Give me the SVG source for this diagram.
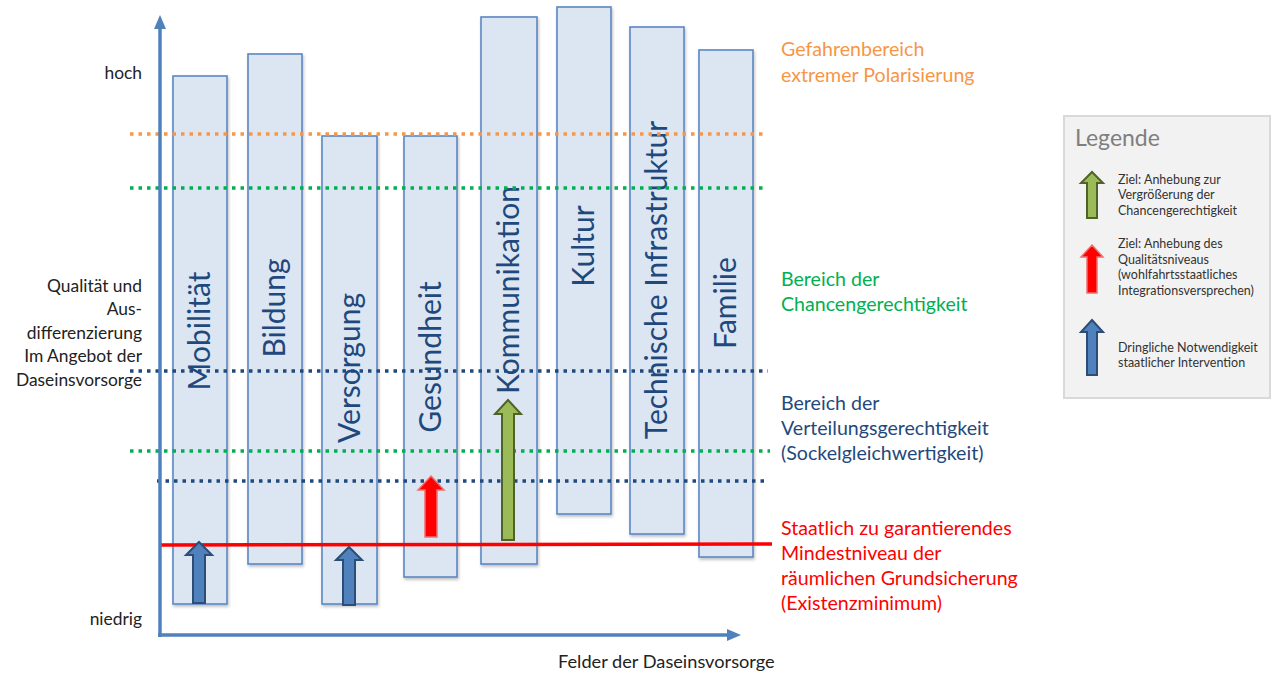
<svg xmlns="http://www.w3.org/2000/svg" width="1274" height="675" viewBox="0 0 1274 675">
<style>
text{font-family:Lato,"Liberation Sans",sans-serif}
.bar{fill:#DCE6F2;stroke:#5B87C2;stroke-width:1.6}
.bl{font-size:30px;fill:#1F497D;text-anchor:middle}
.ax{fill:#222;font-size:18.2px}
.axr{fill:#222;font-size:17.4px;text-anchor:end}
.dot{fill:none;stroke-width:3.5;stroke-dasharray:3.5 5}
.lg{font-size:12.5px;fill:#333}
.ab{fill:#4F81BD;stroke:#2C4D75;stroke-width:2}
.ag{fill:#9BBB59;stroke:#4F6228;stroke-width:2}
.ar{fill:#FF0000;stroke:#EE7070;stroke-width:1.5}
.rl{font-size:19.6px}
</style>
<defs>
<filter id="sh" x="-10%" y="-10%" width="130%" height="130%">
<feDropShadow dx="1" dy="2" stdDeviation="1.5" flood-color="#000" flood-opacity="0.25"/>
</filter>
</defs>
<rect width="1274" height="675" fill="#fff"/>

<g id="bars">
<g id="bar-mobilitaet"><rect class="bar" filter="url(#sh)" x="173" y="76" width="54" height="528"/><text class="bl" transform="translate(210,331) rotate(-90)">Mobilität</text></g>
<g id="bar-bildung"><rect class="bar" filter="url(#sh)" x="248" y="54" width="54" height="510"/><text class="bl" transform="translate(285,308) rotate(-90)">Bildung</text></g>
<g id="bar-versorgung"><rect class="bar" filter="url(#sh)" x="322" y="136" width="55" height="468"/><text class="bl" transform="translate(360,368) rotate(-90)">Versorgung</text></g>
<g id="bar-gesundheit"><rect class="bar" filter="url(#sh)" x="404" y="136" width="53" height="441"/><text class="bl" transform="translate(441,357) rotate(-90)">Gesundheit</text></g>
<g id="bar-kommunikation"><rect class="bar" filter="url(#sh)" x="481" y="17" width="56" height="547"/><text class="bl" transform="translate(519,290) rotate(-90)">Kommunikation</text></g>
<g id="bar-kultur"><rect class="bar" filter="url(#sh)" x="557" y="7" width="54" height="507"/><text class="bl" transform="translate(594,246) rotate(-90)">Kultur</text></g>
<g id="bar-technik"><rect class="bar" filter="url(#sh)" x="630" y="27" width="54" height="507"/><text class="bl" transform="translate(667,280) rotate(-90)">Technische Infrastruktur</text></g>
<g id="bar-familie"><rect class="bar" filter="url(#sh)" x="699" y="50" width="54" height="507"/><text class="bl" transform="translate(736,303) rotate(-90)">Familie</text></g>
</g>

<g id="levels">
<line class="dot" x1="130" y1="134" x2="764" y2="134" stroke="#F79646"/>
<line class="dot" x1="130" y1="188" x2="764" y2="188" stroke="#00B050"/>
<line class="dot" x1="130" y1="371" x2="768" y2="371" stroke="#1F497D"/>
<line class="dot" x1="130" y1="451" x2="770" y2="451" stroke="#00B050"/>
<line class="dot" x1="157" y1="481" x2="768" y2="481" stroke="#1F497D"/>
<line x1="160" y1="545" x2="772" y2="544" stroke="#FF0000" stroke-width="3.5"/>
</g>

<g id="axes">
<line x1="160" y1="637" x2="160" y2="28" stroke="#4F81BD" stroke-width="3.5"/>
<polygon points="160,15 154,29 166,29" fill="#4F81BD"/>
<line x1="158" y1="635" x2="728" y2="635" stroke="#4F81BD" stroke-width="3.5"/>
<polygon points="741,635 727,629 727,641" fill="#4F81BD"/>
</g>

<g id="arrows">
<path class="ab" d="M199,542 L212,555 L205,555 L205,603 L193,603 L193,555 L186,555 Z"/>
<path class="ab" d="M349,547 L362,560 L355,560 L355,605 L343,605 L343,560 L336,560 Z"/>
<path class="ar" d="M431,476 L444,490 L437,490 L437,537 L425,537 L425,490 L418,490 Z"/>
<path class="ag" d="M508,400 L521,414 L514,414 L514,540 L502,540 L502,414 L495,414 Z"/>
</g>

<g id="axis-labels">
<text class="axr" x="142" y="79">hoch</text>
<text class="axr" x="142" y="625">niedrig</text>
<text class="axr" x="142" y="292">Qualität und</text>
<text class="axr" x="142" y="315">Aus-</text>
<text class="axr" x="142" y="339">differenzierung</text>
<text class="axr" x="142" y="362">Im Angebot der</text>
<text class="axr" x="142" y="386">Daseinsvorsorge</text>
<text class="ax" x="558" y="668">Felder der Daseinsvorsorge</text>
</g>

<g id="zone-labels">
<text class="rl" x="781" y="56" fill="#F79646">Gefahrenbereich</text>
<text class="rl" x="781" y="82" fill="#F79646">extremer Polarisierung</text>
<text class="rl" x="781" y="286" fill="#00B050">Bereich der</text>
<text class="rl" x="781" y="311" fill="#00B050">Chancengerechtigkeit</text>
<text class="rl" x="781" y="410" fill="#1F497D">Bereich der</text>
<text class="rl" x="781" y="435" fill="#1F497D">Verteilungsgerechtigkeit</text>
<text class="rl" x="781" y="460" fill="#1F497D">(Sockelgleichwertigkeit)</text>
<text class="rl" x="781" y="535" fill="#FF0000">Staatlich zu garantierendes</text>
<text class="rl" x="781" y="560" fill="#FF0000">Mindestniveau der</text>
<text class="rl" x="781" y="585" fill="#FF0000">räumlichen Grundsicherung</text>
<text class="rl" x="781" y="610" fill="#FF0000">(Existenzminimum)</text>
</g>

<g id="legend">
<rect x="1064" y="116" width="206" height="282" fill="#F2F2F2" stroke="#D9D9D9" stroke-width="2"/>
<text x="1075" y="146" font-size="23px" fill="#7F7F7F">Legende</text>
<path class="ag" d="M1092,172 L1103,183 L1097,183 L1097,218 L1087,218 L1087,183 L1081,183 Z"/>
<text class="lg" x="1118" y="184">Ziel: Anhebung zur</text>
<text class="lg" x="1118" y="199">Vergrößerung der</text>
<text class="lg" x="1118" y="215">Chancengerechtigkeit</text>
<path class="ar" d="M1092,245 L1103,257 L1097,257 L1097,293 L1087,293 L1087,257 L1081,257 Z"/>
<text class="lg" x="1118" y="248">Ziel: Anhebung des</text>
<text class="lg" x="1118" y="264">Qualitätsniveaus</text>
<text class="lg" x="1118" y="279">(wohlfahrtsstaatliches</text>
<text class="lg" x="1118" y="295">Integrationsversprechen)</text>
<path class="ab" d="M1092,320 L1103,332 L1097,332 L1097,375 L1087,375 L1087,332 L1081,332 Z"/>
<text class="lg" x="1118" y="352">Dringliche Notwendigkeit</text>
<text class="lg" x="1118" y="367">staatlicher Intervention</text>
</g>
</svg>
